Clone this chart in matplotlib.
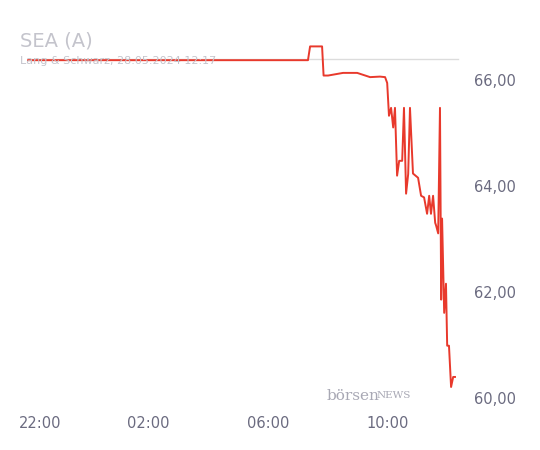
import matplotlib.pyplot as plt

# Zeit in Stunden (22:00 = -2, 10:00 = 10), Kurs in EUR
hours = [-2.0, 7.33, 7.4, 7.8, 7.85, 8.0, 8.5, 8.97, 9.4, 9.73, 9.9, 9.97, 10.03, 10.1, 10.17,
         10.23, 10.3, 10.37, 10.47, 10.53, 10.6, 10.67, 10.73, 10.83, 11.0, 11.1, 11.2, 11.3,
         11.37, 11.43, 11.5, 11.57, 11.6, 11.67, 11.73, 11.77, 11.8, 11.87, 11.93, 11.97,
         12.03, 12.1, 12.17, 12.23]
prices = [66.37, 66.37, 66.63, 66.63, 66.08, 66.08, 66.13, 66.13, 66.05, 66.06, 66.05, 65.94,
          65.32, 65.47, 65.1, 65.47, 64.19, 64.47, 64.47, 65.47, 63.85, 64.22, 65.47, 64.23,
          64.15, 63.81, 63.78, 63.47, 63.81, 63.47, 63.81, 63.3, 63.25, 63.1, 65.47, 61.85,
          63.38, 61.6, 62.15, 60.98, 60.98, 60.2, 60.39, 60.39]
ref_price = 66.39
xticks = [-1.6, 2, 6, 10]
xticklabels = ["22:00", "02:00", "06:00", "10:00"]
yticks = [60, 62, 64, 66]

fig = plt.figure(figsize=(5.4, 4.5), dpi=100)
ax = fig.add_axes([0.037, 0.107, 0.815, 0.804])
ax.plot([-2, 12.33], [ref_price, ref_price], color="#dcdcdc", lw=1)
ax.plot(hours, prices, color="#e8392c", lw=1.4)
ax.set_xlim(-2.27, 12.4)
ax.set_ylim(59.92, 66.75)
for s in ax.spines.values():
    s.set_visible(False)
ax.set_xticks(xticks, xticklabels)
ax.set_yticks(yticks, [f"{v:.2f}".replace(".", ",") for v in yticks])
ax.yaxis.tick_right()
ax.tick_params(length=0, labelsize=10.5, colors="#6b6b80", pad=10)
fig.text(0.037, 0.897, "SEA (A)", fontsize=14, color="#c4c4cc")
fig.text(0.037, 0.858, "Lang & Schwarz, 28.05.2024 12:17", fontsize=8, color="#c4c4cc")
# Wasserzeichen
fig.text(0.605, 0.112, "börsen", fontsize=11, color="#a8a8b4", family="DejaVu Serif")
fig.text(0.698, 0.115, "NEWS", fontsize=7.5, color="#a8a8b4", family="DejaVu Serif")
fig.savefig("out.png")
